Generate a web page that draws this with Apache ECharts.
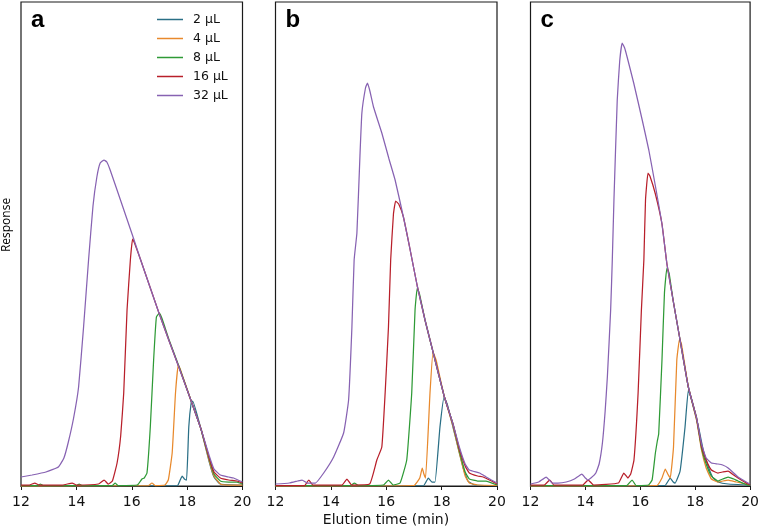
<!DOCTYPE html>
<html>
<head>
<meta charset="utf-8">
<script src="https://cdn.jsdelivr.net/npm/echarts@6/dist/echarts.min.js"></script>
<style>
html,body{margin:0;padding:0;background:#fff;}
#main{width:762px;height:530px;}
</style>
</head>
<body>
<div id="main"></div>
<script>
// ---- Data (elution time in min, response in arbitrary units) ----
const volumes = ['2 µL', '4 µL', '8 µL', '16 µL', '32 µL'];
const panelLabels = ['a', 'b', 'c'];
const xTicks = [12, 14, 16, 18, 20];

// Panel a
const a_2uL = [[12,0],[17.65,0.5],[17.75,6],[17.82,10],[17.9,7],[17.98,6],[18.06,59],[18.15,84],[18.2,85],[18.5,57],[18.8,24],[18.97,9],[19.2,2],[20,1]];
const a_4uL = [[12,0],[16.6,0.5],[16.73,3],[16.85,0.5],[17.2,1],[17.32,6],[17.46,33],[17.58,93],[17.68,121],[17.75,117],[18.12,87],[18.5,57],[18.8,25],[18.97,10],[19.2,2],[19.5,1],[20,1]];
const a_8uL = [[12,0.5],[12.6,0.5],[12.7,2],[12.8,0.5],[14.0,0.5],[14.1,2],[14.2,0.5],[15.3,0.5],[15.4,3],[15.5,0.5],[16.2,1],[16.37,7],[16.45,8],[16.55,13],[16.67,59],[16.79,126],[16.89,169],[17.0,173],[17.1,167],[17.35,146],[17.7,120],[18.12,87],[18.5,57],[18.8,27],[18.97,12],[19.2,5],[19.5,4],[19.8,4],[20,2]];
const a_16uL = [[12,1],[12.3,1],[12.5,3],[12.65,1],[13.5,1],[13.85,3],[14.0,1],[14.8,2],[15.0,6],[15.15,2],[15.3,5],[15.47,23],[15.6,50],[15.71,93],[15.83,176],[15.95,226],[16.03,247],[16.1,243],[16.31,227],[16.97,174],[17.35,145],[17.7,119],[18.12,87],[18.5,57],[18.8,28],[18.97,14],[19.2,8],[19.5,6],[19.8,5],[20,3]];
const a_32uL = [[12,9],[12.4,11],[12.9,14],[13.35,19],[13.55,28],[13.71,44],[13.9,68],[14.08,99],[14.26,159],[14.44,226],[14.6,280],[14.74,309],[14.86,323],[15.0,326],[15.1,324],[15.22,316],[15.58,287],[16.06,248],[16.31,227],[16.97,174],[17.35,145],[17.7,119],[18.12,87],[18.5,57],[18.8,30],[18.97,17],[19.2,11],[19.5,9],[19.68,8],[20,4]];

// Panel b
const b_2uL = [[12,0],[17.35,0.5],[17.52,8],[17.65,4],[17.76,4],[17.94,59],[18.09,89],[18.2,82],[18.41,59],[18.77,19],[18.95,5],[19.2,1],[20,0.5]];
const b_4uL = [[12,0],[17.0,0.5],[17.21,8],[17.3,18],[17.36,12],[17.42,8],[17.58,93],[17.69,134],[17.8,126],[18.09,90],[18.41,60],[18.65,32],[18.85,10],[19.0,3],[19.3,1],[20,0.5]];
const b_8uL = [[12,0.5],[14.7,0.5],[14.85,3],[15.0,0.5],[15.9,1],[16.08,6],[16.25,1],[16.5,3],[16.74,26],[16.92,93],[17.04,176],[17.12,198],[17.2,192],[17.4,166],[17.69,134],[18.09,90],[18.41,62],[18.65,34],[18.85,14],[19.0,7],[19.3,5],[19.6,5],[20,1]];
const b_16uL = [[12,0.5],[13.05,0.5],[13.2,6],[13.35,1],[14.4,1],[14.58,7],[14.75,1],[15.4,2],[15.66,26],[15.84,39],[15.96,93],[16.08,159],[16.16,226],[16.26,272],[16.34,285],[16.45,282],[16.62,269],[16.85,238],[17.12,200],[17.4,166],[17.69,134],[18.09,90],[18.41,62],[18.65,36],[18.85,20],[19.0,13],[19.3,10],[19.5,9],[19.8,5],[20,2]];
const b_32uL = [[12,2],[12.5,3],[12.8,5],[12.96,6],[13.15,3],[13.44,3],[13.74,13],[14.1,29],[14.46,53],[14.64,86],[14.76,159],[14.84,226],[14.94,253],[15.05,330],[15.12,373],[15.25,398],[15.32,403],[15.4,396],[15.54,379],[15.84,353],[16.1,327],[16.32,306],[16.62,269],[16.85,238],[17.12,200],[17.4,166],[17.69,134],[18.09,90],[18.41,62],[18.65,38],[18.85,22],[19.0,16],[19.37,13],[19.61,9],[19.8,6],[20,3]];

// Panel c
const c_2uL = [[12,0],[16.9,0.5],[17.09,8],[17.2,4],[17.27,3],[17.45,15],[17.63,59],[17.75,96],[17.85,88],[18.12,59],[18.3,35],[18.48,19],[18.65,8],[18.83,4],[19.2,2],[20,1]];
const c_4uL = [[12,0],[16.6,0.5],[16.79,8],[16.91,17],[17.0,12],[17.09,8],[17.21,39],[17.33,126],[17.43,147],[17.5,142],[17.75,99],[18.05,66],[18.23,36],[18.4,18],[18.59,7],[18.83,4],[19.2,6],[19.5,4],[20,1]];
const c_8uL = [[12,0.5],[15.5,0.5],[15.7,6],[15.85,0.5],[16.3,1],[16.43,6],[16.55,33],[16.62,45],[16.67,52],[16.79,126],[16.88,193],[16.97,218],[17.05,213],[17.2,185],[17.43,149],[17.75,99],[18.05,68],[18.23,38],[18.4,22],[18.59,10],[18.83,5],[19.0,7],[19.2,9],[19.4,7],[19.56,5],[19.92,1],[20,1]];
const c_16uL = [[12,1],[12.5,1],[12.7,6],[12.85,1],[13.9,1],[14.1,6],[14.3,1],[15.2,3],[15.4,13],[15.55,8],[15.65,12],[15.77,26],[15.92,93],[16.04,176],[16.13,226],[16.19,286],[16.28,313],[16.35,310],[16.55,292],[16.79,262],[16.97,222],[17.2,185],[17.43,149],[17.75,99],[18.05,68],[18.23,40],[18.4,26],[18.59,16],[18.83,13],[19.0,14],[19.2,15],[19.4,11],[19.56,8],[19.92,2],[20,1.5]];
const c_32uL = [[12,2],[12.3,4],[12.57,9],[12.8,3],[13.0,3],[13.3,4],[13.6,7],[13.87,12],[14.0,8],[14.08,6],[14.2,8],[14.38,13],[14.5,22],[14.62,43],[14.72,75],[14.8,109],[14.92,176],[14.98,226],[15.04,286],[15.16,386],[15.25,425],[15.34,443],[15.43,438],[15.52,429],[15.76,403],[16.07,366],[16.31,336],[16.55,300],[16.79,262],[16.97,222],[17.2,185],[17.43,149],[17.75,99],[18.05,68],[18.23,42],[18.4,28],[18.59,23],[18.83,22],[19.0,21],[19.2,18],[19.56,9],[19.92,3],[20,2]];

const panels = [
  [a_2uL, a_4uL, a_8uL, a_16uL, a_32uL],
  [b_2uL, b_4uL, b_8uL, b_16uL, b_32uL],
  [c_2uL, c_4uL, c_8uL, c_16uL, c_32uL]
];

// ---- Styling ----
const colors = ['#2a6f86', '#e8892c', '#2e9a36', '#b81f2a', '#8762b2'];
const gridLefts = [21, 275.5, 530.5];
const gridW = 221.5, gridTop = 2, gridH = 484;

const grids = [], xAxes = [], yAxes = [], series = [], graphics = [];
panels.forEach((panel, i) => {
  grids.push({left: gridLefts[i], top: gridTop, width: gridW, height: gridH,
    show: true, borderColor: '#1a1a1a', borderWidth: 1.2, backgroundColor: 'transparent'});
  xAxes.push({type: 'value', gridIndex: i, min: xTicks[0], max: xTicks[xTicks.length-1], interval: 2,
    axisLine: {show: true, onZero: false, lineStyle: {color: '#1a1a1a', width: 1.2}},
    axisTick: {show: true, length: 4, lineStyle: {color: '#1a1a1a', width: 1}},
    splitLine: {show: false},
    axisLabel: {fontFamily: 'DejaVu Sans', fontSize: 14, color: '#111', margin: 9}});
  yAxes.push({type: 'value', gridIndex: i, min: 0, max: 484, show: false, splitLine: {show: false}});
  panel.forEach((d, k) => {
    series.push({name: volumes[k], type: 'line', xAxisIndex: i, yAxisIndex: i, data: d,
      showSymbol: false, symbol: 'none', smooth: 0.12,
      lineStyle: {width: 1.25, color: colors[k]}, itemStyle: {color: colors[k]},
      animation: false, silent: true});
  });
  graphics.push({type: 'text', left: gridLefts[i] + 10, top: 8,
    style: {text: panelLabels[i], font: 'bold 24px "Liberation Sans", Arial, sans-serif', fill: '#000'}});
});

graphics.push({type: 'text', x: 386, y: 520,
  style: {text: 'Elution time (min)', font: '14px "DejaVu Sans"', fill: '#111', align: 'center', verticalAlign: 'middle'}});
graphics.push({type: 'text', x: 7, y: 225, rotation: Math.PI / 2,
  style: {text: 'Response', font: '12px "Open Sans"', fill: '#000', align: 'center', verticalAlign: 'middle'}});

const chart = echarts.init(document.getElementById('main'), null, {renderer: 'canvas'});
chart.setOption({
  animation: false,
  backgroundColor: '#fff',
  color: colors,
  grid: grids,
  xAxis: xAxes,
  yAxis: yAxes,
  series: series,
  legend: {data: volumes, orient: 'vertical', left: 157, top: 12, padding: 0,
    icon: 'rect', itemWidth: 26, itemHeight: 1.5, itemGap: 4,
    textStyle: {fontFamily: 'DejaVu Sans', fontSize: 12.5, color: '#111', padding: [0, 0, 0, 5], lineHeight: 15}},
  graphic: graphics
});
</script>
</body>
</html>
